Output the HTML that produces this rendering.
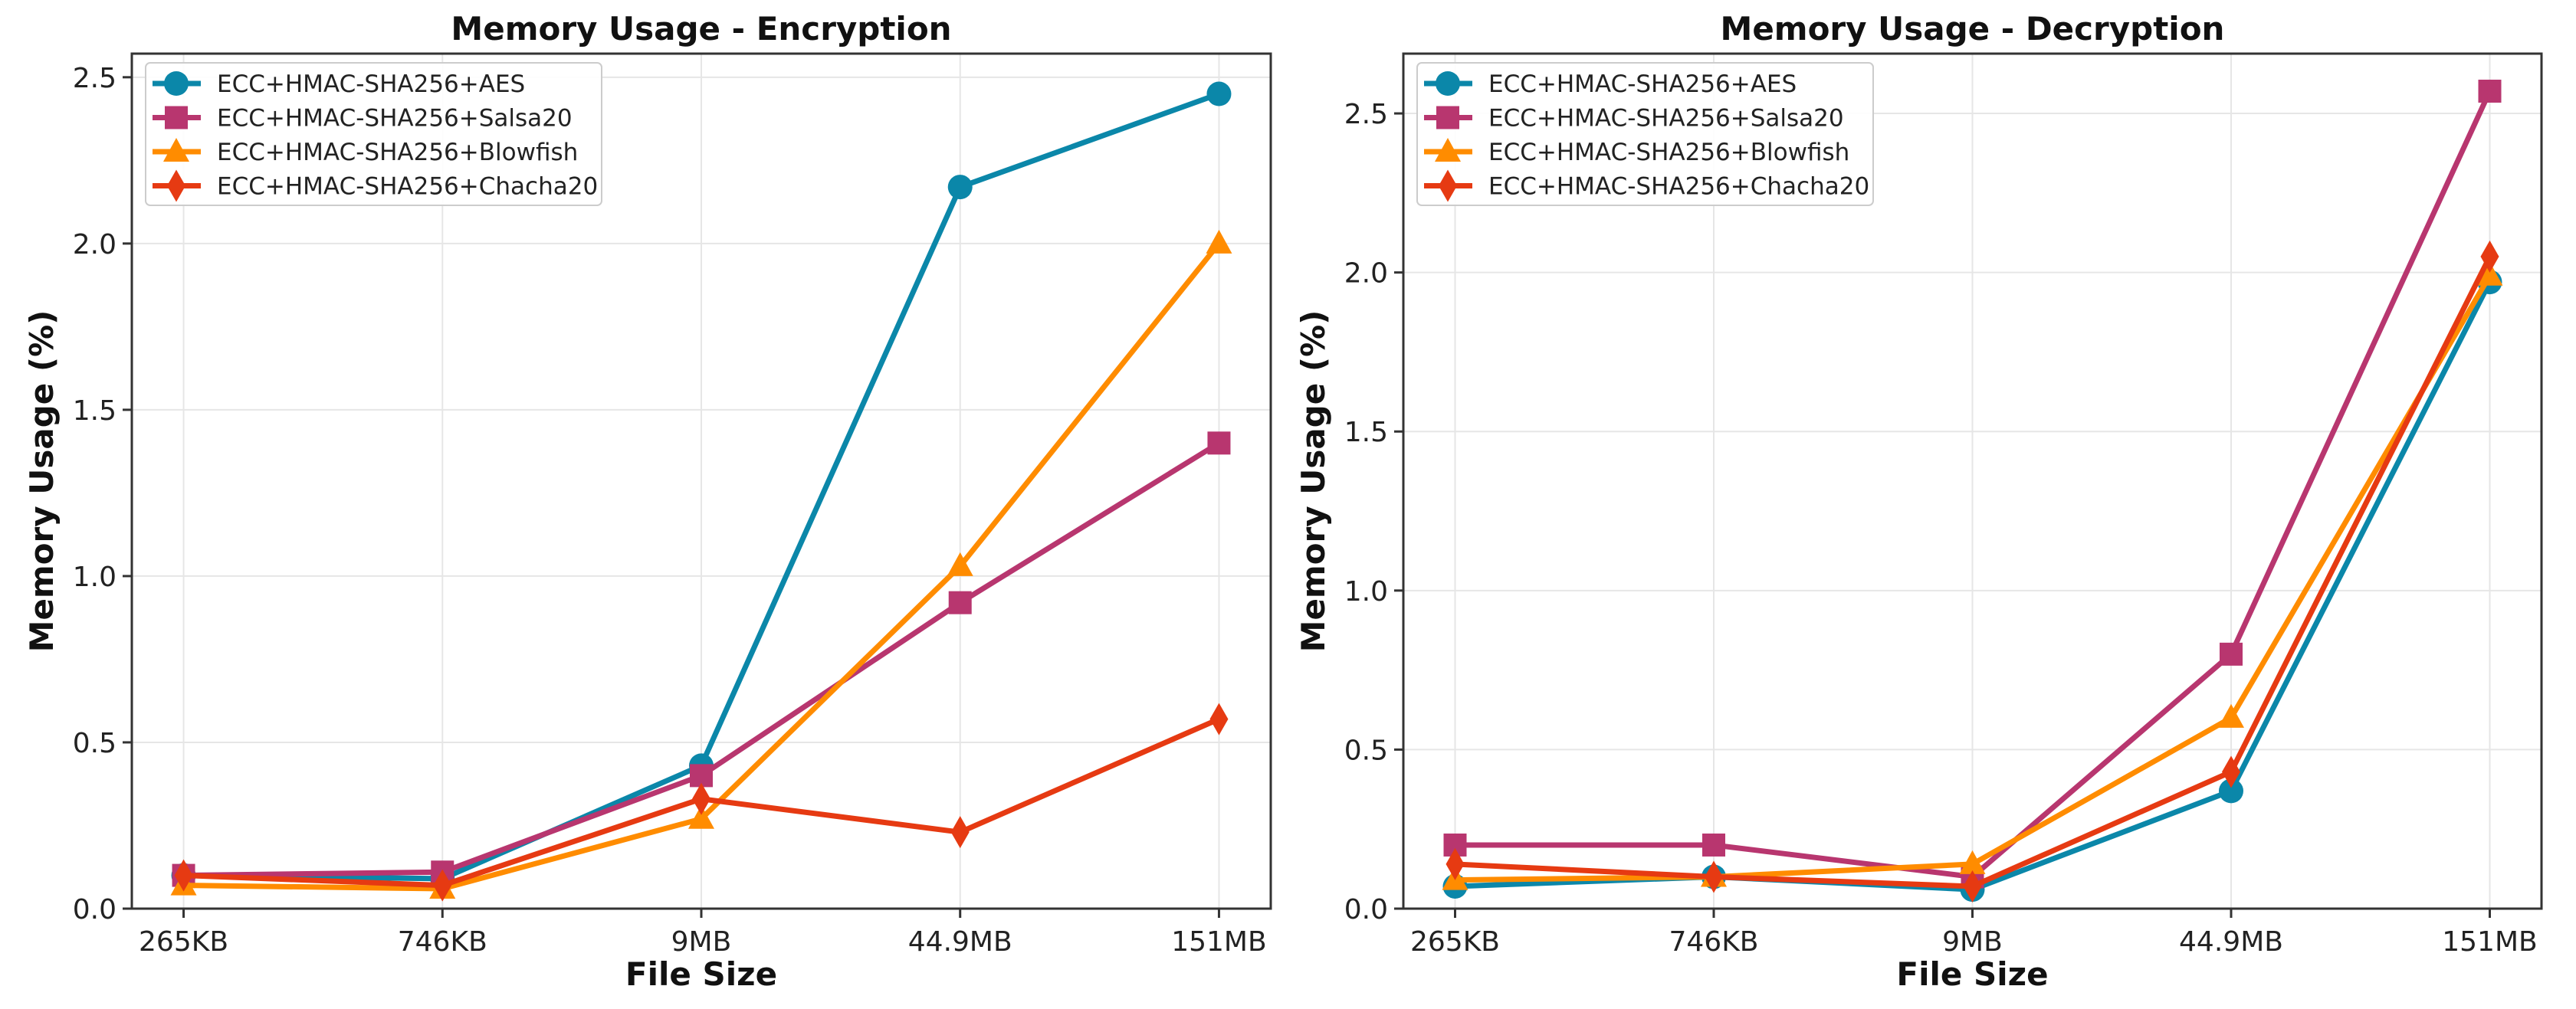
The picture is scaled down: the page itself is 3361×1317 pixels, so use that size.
<!DOCTYPE html>
<html><head><meta charset="utf-8"><style>
html,body{margin:0;padding:0;background:#fff;}
svg{display:block;font-family:"DejaVu Sans","Liberation Sans",sans-serif;}
</style></head><body>
<svg id="chart" width="3361" height="1317" viewBox="0 0 3361 1317" xmlns="http://www.w3.org/2000/svg"></svg>
<script>
const categories = ["265KB","746KB","9MB","44.9MB","151MB"];
const seriesNames = ["ECC+HMAC-SHA256+AES","ECC+HMAC-SHA256+Salsa20","ECC+HMAC-SHA256+Blowfish","ECC+HMAC-SHA256+Chacha20"];
const encAES = [0.10,0.09,0.43,2.17,2.45];
const encSalsa = [0.10,0.11,0.40,0.92,1.40];
const encBlowfish = [0.07,0.06,0.27,1.03,2.00];
const encChacha = [0.10,0.07,0.33,0.23,0.57];
const decAES = [0.07,0.10,0.06,0.37,1.97];
const decSalsa = [0.20,0.20,0.10,0.80,2.57];
const decBlowfish = [0.09,0.10,0.14,0.60,1.99];
const decChacha = [0.14,0.10,0.07,0.43,2.05];
const yTicks = [0.0,0.5,1.0,1.5,2.0,2.5];
const yMaxEnc = 2.571;
const yMaxDec = 2.688;

const colors = ["#0b87a9","#b8366f","#ff8c00","#e63a12"];
const markers = ["circle","square","triangle","diamond"];
const NS = "http://www.w3.org/2000/svg";
const svg = document.getElementById("chart");
function mk(tag, attrs, parent){const e=document.createElementNS(NS,tag);for(const k in attrs)e.setAttribute(k,attrs[k]);(parent||svg).appendChild(e);return e;}
function marker(g,type,x,y,c){
  let e;
  if(type==="circle") e=mk("circle",{cx:x,cy:y,r:16,fill:c},g);
  else if(type==="square") e=mk("rect",{x:x-15,y:y-15,width:30,height:30,fill:c},g);
  else if(type==="triangle") e=mk("polygon",{points:`${x},${y-18} ${x+17},${y+13} ${x-17},${y+13}`,fill:c},g);
  else e=mk("polygon",{points:`${x},${y-21} ${x+12},${y} ${x},${y+21} ${x-12},${y}`,fill:c},g);
  return e;
}
function panel(name,title,L,R,T,B,yMax,data){
  const g=mk("g",{});
  
  
  const step=(R-L)/4.4;
  const xs=i=>L+0.2*step+i*step;
  const ys=v=>B-(v/yMax)*(B-T);
  yTicks.forEach(t=>{const y=ys(t);const l=mk("line",{x1:L,x2:R,y1:y,y2:y,stroke:"#e6e6e6","stroke-width":2},g);
    });
  categories.forEach((c,i)=>{const x=xs(i);const l=mk("line",{x1:x,x2:x,y1:T,y2:B,stroke:"#e6e6e6","stroke-width":2},g);
    });
  data.forEach((arr,s)=>{
    const sg=mk("g",{},g);
    
    
    const pts=arr.map((v,i)=>xs(i)+","+ys(v)).join(" ");
    mk("polyline",{points:pts,fill:"none",stroke:colors[s],"stroke-width":7,"stroke-linejoin":"round"},sg);
    arr.forEach((v,i)=>{const m=marker(sg,markers[s],xs(i),ys(v),colors[s]);
      });
  });
  const fr=mk("rect",{x:L,y:T,width:R-L,height:B-T,fill:"none",stroke:"#333","stroke-width":3},g);
  
  yTicks.forEach(t=>{const y=ys(t);mk("line",{x1:L-12,x2:L,y1:y,y2:y,stroke:"#333","stroke-width":3},g);
    const tx=mk("text",{x:L-20,y:y+13,"text-anchor":"end","font-size":36,fill:"#222"},g);tx.textContent=t.toFixed(1);
    });
  categories.forEach((c,i)=>{const x=xs(i);mk("line",{x1:x,x2:x,y1:B,y2:B+12,stroke:"#333","stroke-width":3},g);
    const tx=mk("text",{x:x,y:B+55,"text-anchor":"middle","font-size":36,fill:"#222"},g);tx.textContent=c;
    });
  const ti=mk("text",{x:(L+R)/2,y:52,"text-anchor":"middle","font-size":42,"font-weight":"bold",fill:"#111"},g);ti.textContent=title;
  
  const xl=mk("text",{x:(L+R)/2,y:1286,"text-anchor":"middle","font-size":42,"font-weight":"bold",fill:"#111"},g);xl.textContent="File Size";
  
  const yl=mk("text",{x:0,y:0,"text-anchor":"middle","font-size":42,"font-weight":"bold",fill:"#111",transform:`translate(${L-103},${(T+B)/2}) rotate(-90)`},g);yl.textContent="Memory Usage (%)";
  
  const lg=mk("g",{},g);
  
  mk("rect",{x:L+18,y:T+12,width:595,height:186,rx:6,fill:"#fff","fill-opacity":0.9,stroke:"#ccc","stroke-width":2},lg);
  seriesNames.forEach((n,s)=>{const y=T+39+s*44.5;
    const e=mk("g",{},lg);
    mk("line",{x1:L+27,x2:L+90,y1:y,y2:y,stroke:colors[s],"stroke-width":7},e);
    marker(e,markers[s],L+58,y,colors[s]);
    const t=mk("text",{x:L+111,y:y+11,"font-size":31,fill:"#222"},e);t.textContent=n;});
}
panel("encryption-panel","Memory Usage - Encryption",172,1658,70,1186,yMaxEnc,[encAES,encSalsa,encBlowfish,encChacha]);
panel("decryption-panel","Memory Usage - Decryption",1831,3316,70,1186,yMaxDec,[decAES,decSalsa,decBlowfish,decChacha]);
</script>
</body></html>
